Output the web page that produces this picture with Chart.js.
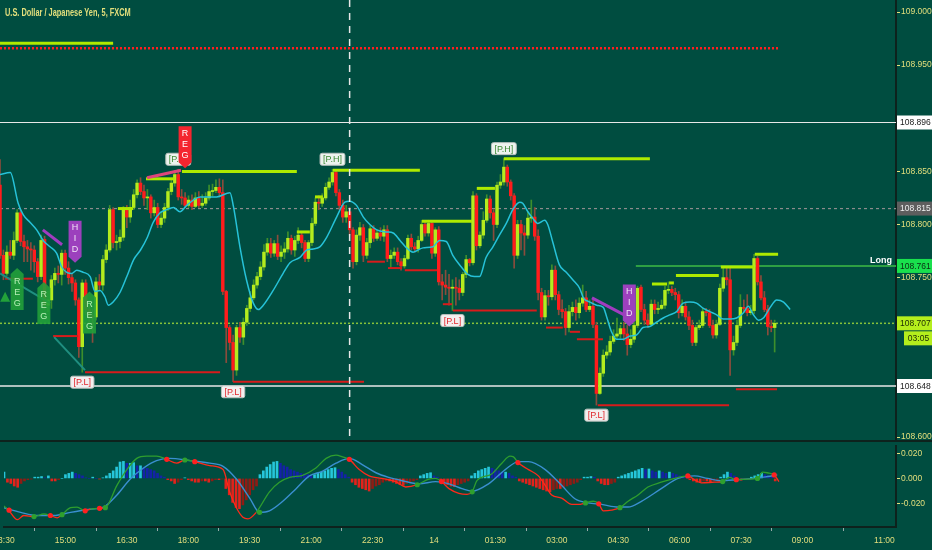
<!DOCTYPE html>
<html>
<head>
<meta charset="utf-8">
<script src="https://cdn.jsdelivr.net/npm/chart.js@4.4.1/dist/chart.umd.min.js"></script>
<style>
  html, body { margin: 0; padding: 0; background: #004d40; }
  #wrap { position: relative; width: 932px; height: 550px; overflow: hidden; background: #004d40; }
  canvas { display: block; }
  #title { position: absolute; left: 5px; top: 7px; color: #e3df7c; white-space: nowrap;
    font: bold 10px 'Liberation Sans Narrow', 'Liberation Sans', sans-serif;
    transform: scaleX(0.74); transform-origin: left top; }
</style>
</head>
<body>
<div id="wrap">
  <canvas id="price" width="932" height="442"></canvas>
  <canvas id="osc" width="932" height="108"></canvas>
  <div id="title">U.S. Dollar / Japanese Yen, 5, FXCM</div>
</div>
<script>
// 5-minute bars, bar 0 = 13:30
const opens = [
  108.837,108.771,108.754,108.774,108.771,108.785,108.811,108.784,108.779,108.777,
  108.776,108.765,108.751,108.786,108.724,108.729,108.748,108.754,108.753,108.773,
  108.759,108.750,108.745,108.729,108.685,108.745,108.720,108.714,108.713,108.746,
  108.743,108.767,108.776,108.814,108.783,108.784,108.788,108.814,108.807,108.816,
  108.828,108.839,108.831,108.825,108.826,108.811,108.816,108.800,108.806,108.816,
  108.831,108.839,108.847,108.826,108.825,108.818,108.823,108.817,108.825,108.818,
  108.820,108.825,108.831,108.832,108.835,108.830,108.737,108.703,108.689,108.663,
  108.703,108.694,108.708,108.721,108.731,108.743,108.751,108.760,108.774,108.782,
  108.773,108.782,108.770,108.774,108.777,108.787,108.776,108.785,108.790,108.783,
  108.768,108.783,108.801,108.821,108.820,108.825,108.835,108.840,108.849,108.830,
  108.818,108.807,108.812,108.795,108.765,108.790,108.797,108.771,108.783,108.796,
  108.787,108.792,108.789,108.795,108.768,108.771,108.774,108.765,108.761,108.768,
  108.787,108.779,108.777,108.785,108.800,108.792,108.801,108.773,108.795,108.746,
  108.743,108.741,108.740,108.741,108.740,108.736,108.753,108.767,108.764,108.827,
  108.780,108.790,108.804,108.824,108.811,108.800,108.837,108.840,108.854,108.840,
  108.827,108.771,108.800,108.792,108.790,108.806,108.807,108.789,108.736,108.713,
  108.733,108.732,108.757,108.734,108.720,108.718,108.703,108.718,108.722,108.717,
  108.726,108.731,108.720,108.723,108.705,108.641,108.660,108.677,108.680,108.690,
  108.695,108.697,108.702,108.697,108.687,108.692,108.705,108.741,108.720,108.710,
  108.706,108.725,108.720,108.721,108.724,108.738,108.739,108.736,108.734,108.717,
  108.723,108.713,108.705,108.689,108.703,108.705,108.718,108.717,108.705,108.696,
  108.706,108.740,108.750,108.748,108.682,108.689,108.705,108.722,108.721,108.717,
  108.719,108.768,108.746,108.731,108.720,108.704,108.703
];
const highs = [
  108.861,108.776,108.780,108.785,108.793,108.814,108.814,108.790,108.785,108.783,
  108.780,108.768,108.790,108.789,108.737,108.752,108.759,108.761,108.776,108.776,
  108.765,108.754,108.748,108.731,108.748,108.748,108.724,108.720,108.750,108.753,
  108.771,108.781,108.818,108.816,108.790,108.795,108.817,108.818,108.823,108.833,
  108.842,108.844,108.837,108.833,108.828,108.823,108.820,108.812,108.820,108.834,
  108.842,108.851,108.852,108.833,108.830,108.827,108.828,108.830,108.831,108.828,
  108.830,108.837,108.838,108.842,108.843,108.842,108.738,108.705,108.696,108.705,
  108.708,108.712,108.724,108.737,108.748,108.755,108.765,108.781,108.787,108.787,
  108.785,108.790,108.780,108.783,108.793,108.790,108.789,108.797,108.793,108.785,
  108.785,108.806,108.825,108.827,108.829,108.839,108.844,108.852,108.851,108.833,
  108.823,108.818,108.816,108.797,108.795,108.802,108.800,108.787,108.799,108.799,
  108.795,108.797,108.799,108.799,108.776,108.778,108.778,108.768,108.771,108.790,
  108.791,108.783,108.789,108.804,108.802,108.804,108.804,108.797,108.798,108.753,
  108.757,108.753,108.748,108.750,108.748,108.755,108.771,108.768,108.831,108.829,
  108.793,108.812,108.828,108.827,108.814,108.840,108.847,108.862,108.856,108.842,
  108.829,108.804,108.804,108.799,108.812,108.823,108.816,108.795,108.740,108.738,
  108.738,108.762,108.761,108.737,108.729,108.721,108.724,108.727,108.729,108.731,
  108.743,108.737,108.729,108.729,108.708,108.665,108.682,108.686,108.695,108.701,
  108.712,108.705,108.708,108.705,108.701,108.708,108.742,108.743,108.725,108.716,
  108.729,108.729,108.727,108.729,108.742,108.746,108.742,108.740,108.737,108.729,
  108.727,108.718,108.710,108.705,108.710,108.721,108.721,108.720,108.710,108.710,
  108.744,108.759,108.760,108.759,108.695,108.710,108.734,108.729,108.734,108.724,
  108.772,108.770,108.752,108.737,108.724,108.710,108.710
];
const lows = [
  108.768,108.748,108.752,108.768,108.767,108.783,108.780,108.765,108.765,108.757,
  108.755,108.746,108.748,108.720,108.718,108.721,108.743,108.745,108.743,108.753,
  108.744,108.737,108.724,108.675,108.661,108.715,108.708,108.689,108.710,108.738,
  108.738,108.764,108.774,108.778,108.776,108.778,108.785,108.797,108.802,108.814,
  108.825,108.828,108.818,108.814,108.806,108.808,108.797,108.797,108.802,108.813,
  108.828,108.836,108.823,108.819,108.816,108.816,108.814,108.816,108.816,108.816,
  108.818,108.823,108.827,108.830,108.826,108.734,108.670,108.682,108.652,108.658,
  108.689,108.687,108.705,108.718,108.729,108.740,108.748,108.757,108.771,108.769,
  108.770,108.767,108.765,108.768,108.774,108.772,108.770,108.782,108.778,108.765,
  108.765,108.780,108.799,108.814,108.817,108.823,108.833,108.837,108.827,108.814,
  108.802,108.802,108.790,108.759,108.762,108.785,108.765,108.768,108.778,108.784,
  108.785,108.785,108.784,108.765,108.759,108.768,108.762,108.757,108.759,108.767,
  108.776,108.774,108.774,108.784,108.789,108.789,108.768,108.770,108.743,108.729,
  108.734,108.724,108.719,108.724,108.729,108.733,108.750,108.761,108.762,108.776,
  108.778,108.787,108.802,108.806,108.785,108.797,108.834,108.837,108.836,108.823,
  108.759,108.768,108.776,108.771,108.787,108.802,108.785,108.729,108.710,108.710,
  108.724,108.729,108.729,108.715,108.712,108.696,108.699,108.714,108.710,108.712,
  108.723,108.718,108.718,108.703,108.630,108.640,108.657,108.674,108.677,108.688,
  108.693,108.693,108.691,108.677,108.684,108.689,108.703,108.718,108.706,108.703,
  108.705,108.716,108.716,108.720,108.721,108.735,108.733,108.729,108.712,108.714,
  108.710,108.701,108.686,108.686,108.701,108.703,108.714,108.703,108.693,108.693,
  108.705,108.737,108.743,108.658,108.677,108.686,108.703,108.718,108.714,108.715,
  108.716,108.743,108.729,108.718,108.696,108.699,108.680
];
const closes = [
  108.771,108.754,108.774,108.771,108.785,108.811,108.784,108.779,108.777,108.776,
  108.765,108.751,108.785,108.724,108.729,108.748,108.754,108.753,108.773,108.759,
  108.750,108.745,108.729,108.685,108.745,108.720,108.714,108.713,108.746,108.743,
  108.767,108.776,108.814,108.783,108.784,108.788,108.814,108.807,108.816,108.828,
  108.839,108.831,108.825,108.826,108.811,108.816,108.800,108.806,108.816,108.831,
  108.839,108.847,108.826,108.825,108.818,108.823,108.817,108.825,108.818,108.820,
  108.825,108.831,108.832,108.835,108.830,108.737,108.703,108.689,108.663,108.703,
  108.694,108.708,108.721,108.731,108.743,108.751,108.760,108.774,108.782,108.773,
  108.782,108.770,108.774,108.777,108.787,108.776,108.785,108.790,108.783,108.768,
  108.783,108.801,108.821,108.820,108.825,108.835,108.840,108.849,108.830,108.818,
  108.807,108.812,108.795,108.765,108.790,108.797,108.771,108.783,108.796,108.787,
  108.792,108.789,108.795,108.768,108.771,108.774,108.765,108.761,108.768,108.787,
  108.779,108.777,108.785,108.800,108.792,108.801,108.773,108.795,108.746,108.743,
  108.741,108.740,108.741,108.740,108.736,108.753,108.767,108.764,108.827,108.780,
  108.790,108.804,108.824,108.811,108.800,108.837,108.840,108.854,108.840,108.827,
  108.771,108.800,108.792,108.790,108.806,108.807,108.789,108.736,108.713,108.733,
  108.732,108.757,108.734,108.720,108.718,108.703,108.718,108.722,108.717,108.726,
  108.731,108.720,108.723,108.706,108.641,108.660,108.677,108.680,108.690,108.695,
  108.697,108.702,108.697,108.687,108.692,108.705,108.740,108.720,108.710,108.706,
  108.725,108.720,108.721,108.724,108.738,108.739,108.736,108.734,108.717,108.723,
  108.713,108.705,108.689,108.703,108.705,108.718,108.717,108.705,108.696,108.706,
  108.740,108.750,108.748,108.682,108.689,108.705,108.722,108.721,108.717,108.719,
  108.768,108.746,108.731,108.720,108.704,108.703,108.707
];

// moving average (cyan), read at bar positions
const maBars = [0,3,5.3,6.8,8.8,10.7,12.6,14.6,16.5,18,19.5,21,22.4,24.3,26.3,27.7,29.2,30.6,31.6,33,
  35,37,39,41,43,44.7,46.7,48.6,50.6,52.5,54.5,56.4,58.4,60.5,63.2,67.1,68.1,70,71.9,73.9,
  75.4,76.8,79.7,82.6,84.6,87.5,89.5,91.4,93.3,95.3,98.2,100.6,102,104,106,107.9,109.9,112.8,114.7,116.7,
  118.6,120.5,123.4,126.3,128.2,130.2,132.1,134.6,136.5,138.4,139.9,141.8,143.8,145.7,147.7,149.6,151.6,152.5,154,155.4,
  156.9,158.9,159.8,161.3,163.2,165.2,167.1,169.1,170.2,172.1,174.1,176,177,178.4,179.9,181.8,183.8,185.7,187.6,189.6,
  191.5,193.5,195.4,197.4,199.3,201.3,203.2,205.2,207.1,209.1,211,213,214.9,216.9,218.3,219.8,221.3,222.7,224.7,226.6,
  228.6,230.5];
const maValues = [108.847,108.849,108.820,108.809,108.802,108.795,108.785,108.779,108.773,108.760,108.755,108.754,108.757,108.755,108.751,108.737,108.738,108.732,108.724,108.727,
  108.736,108.751,108.767,108.776,108.788,108.802,108.811,108.814,108.816,108.812,108.818,108.823,108.826,108.826,108.826,108.830,108.817,108.779,108.748,108.726,
  108.720,108.724,108.738,108.754,108.764,108.769,108.776,108.777,108.779,108.788,108.807,108.821,108.822,108.818,108.807,108.800,108.795,108.793,108.792,108.785,
  108.778,108.774,108.778,108.779,108.785,108.784,108.771,108.760,108.753,108.751,108.751,108.769,108.779,108.790,108.801,108.814,108.821,108.820,108.812,108.806,
  108.801,108.804,108.800,108.783,108.762,108.755,108.748,108.740,108.731,108.727,108.724,108.722,108.713,108.699,108.692,108.692,108.695,108.696,108.703,108.704,
  108.708,108.712,108.715,108.718,108.726,108.727,108.726,108.721,108.718,108.715,108.711,108.711,108.712,108.717,108.723,108.715,108.710,108.712,108.722,108.729,
  108.727,108.720];

// pivot levels: [start bar, end bar, price]
const pivotHighSegs = [[34.4,38.8,108.815],[42.6,51.0,108.843],[53.1,86.6,108.850],[86.6,90.4,108.793],[91.9,94.2,108.826],
  [97.1,122.5,108.851],[123.1,137.7,108.803],[139.1,144.4,108.834],[147.0,189.6,108.862],[190.2,194.6,108.744],
  [195.2,196.6,108.745],[197.2,209.7,108.752],[210.3,220.0,108.760],[220.2,227.0,108.772]];
const pivotLowSegs = [[1.5,9.6,108.749],[15.5,22.8,108.695],[24.8,64.2,108.661],[68.0,106.2,108.652],[107.1,112.3,108.765],
  [113.2,117.3,108.759],[118.1,127.5,108.757],[129.2,131.9,108.725],[132.1,156.6,108.719],[159.3,164.2,108.703],
  [166.3,169.2,108.699],[168.3,175.9,108.692],[174.4,212.7,108.630],[214.7,226.7,108.645]];
const pivotLowBars = [24, 68, 132, 174];
const pivotHighBars = [52, 97, 147];

// trend / divergence lines: [[bar, price], [bar, price]]
const tealLines = [[[0,108.754],[14.6,108.726]], [[15.8,108.694],[24.8,108.663]]];
const pinkLines = [[[42.9,108.844],[52.8,108.851]]];
const purpleLines = [[[12.5,108.795],[18.1,108.781]], [[172.7,108.731],[183.2,108.713]]];

// signal labels: [bar, price at arrow tip]
const regDownMarks = [[54, 108.853]];
const hidMarks = [[21.9, 108.764], [183.6, 108.704]];
const regUpMarks = [[5, 108.759], [12.8, 108.746], [26.1, 108.737]];
const upTriangles = [[1.5, 108.731]];

// horizontal levels
const levelValues = [108.896, 108.815, 108.761, 108.707, 108.648];
const longStartBar = 185.5;
const topLime = [0, 33, 108.9706];
const topRed = [0, 227, 108.9658];
const sessionBreakBar = 102;
const countdown = '03:05';

// oscillator
const histValues = [
  0.005,-0.003,-0.004,-0.006,-0.007,-0.004,-0.002,-0.001,-0.0005,0.001,
  0.001,0.0015,0.0005,0.002,-0.002,-0.002,-0.001,0,0.003,0.004,
  0.005,0.004,0.003,0.002,0.0005,0,0.001,0,-0.0005,0.0005,
  0.002,0.004,0.006,0.009,0.013,0.0135,0.012,0.012,0.0125,0.010,
  0.010,0.009,0.008,0.007,0.006,0.004,0.002,0.001,-0.001,-0.002,
  -0.004,-0.003,-0.001,0.0005,-0.001,-0.002,-0.003,-0.003,-0.002,-0.002,
  -0.003,-0.002,-0.001,-0.001,-0.0005,-0.008,-0.013,-0.019,-0.023,-0.024,
  -0.021,-0.017,-0.013,-0.009,-0.006,0.003,0.006,0.009,0.011,0.013,
  0.0135,0.012,0.010,0.009,0.007,0.006,0.005,0.004,0.0035,0.003,
  0.002,0.003,0.004,0.005,0.006,0.007,0.008,0.0085,0.007,0.005,
  0.003,0.001,-0.003,-0.005,-0.007,-0.008,-0.009,-0.010,-0.008,-0.006,
  -0.005,-0.003,-0.002,-0.002,-0.003,-0.004,-0.005,-0.0055,-0.004,-0.003,
  -0.002,-0.001,0.002,0.003,0.004,0.0045,0.002,0.001,-0.002,-0.004,
  -0.005,-0.006,-0.0065,-0.005,-0.004,-0.003,-0.002,0.002,0.004,0.006,
  0.007,0.008,0.009,0.008,0.007,0.006,0.005,0.005,0.004,0.002,
  0.001,-0.002,-0.003,-0.004,-0.005,-0.006,-0.007,-0.008,-0.009,-0.010,
  -0.0105,-0.009,-0.008,-0.008,-0.007,-0.006,-0.005,-0.004,-0.003,-0.001,
  0.001,0.001,0.0015,0.001,-0.002,-0.004,-0.005,-0.005,-0.004,-0.003,
  0.001,0.002,0.003,0.004,0.005,0.006,0.007,0.008,0.007,0.0075,
  0.006,0.005,0.006,0.005,0.004,0.005,0.004,0.003,0.002,0.0015,
  0.001,-0.001,-0.002,-0.003,-0.003,-0.002,-0.002,-0.003,-0.002,-0.001,
  0.001,0.003,0.005,0.004,0.002,-0.001,-0.0015,-0.001,-0.0005,0.001,
  0.002,0.003,0.004,0.003,0.002,0.001,-0.002
];
const macdBars = [0,1.5,3.9,5.8,8.8,11.7,13.6,15.6,17,19.5,21.4,23.8,25.3,28,29.7,33.1,36,38.9,41.8,44.7,
  47.7,50.6,53,55.9,60.3,64.2,66.1,68.1,70,71.5,73.9,77.8,80.7,83.7,87.5,91.4,94.4,97.3,99.2,101.2,
  104.1,107,111.9,114.8,117.7,121.1,124.5,126.5,128.2,130.4,133.3,135.7,137.2,138.6,142.8,145.9,148.3,149.3,150.6,153.7,
  156.6,158.6,160.5,163.4,166.4,168.3,170.4,172.7,174.3,175.6,178,180.5,182.9,185.8,188.7,192.6,196.5,200.4,202.3,204.3,
  208.2,210.6,212.6,214.6,217.9,220.8,222.3,223.7,225.7,227.1];
const macdValues = [-0.0219,-0.0257,-0.0327,-0.0294,-0.0302,-0.0282,-0.0294,-0.0312,-0.0287,-0.0232,
  -0.0227,-0.0257,-0.0244,-0.0237,-0.0232,-0.0055,0.0070,0.0159,0.0176,0.0176,
  0.0151,0.0121,0.0146,0.0133,0.0101,0.0070,-0.0106,-0.0232,-0.0307,-0.0320,
  -0.0269,-0.0106,-0.0030,0.0008,0.0025,0.0083,0.0159,0.0184,0.0171,0.0151,
  0.0070,0.0020,-0.0005,-0.0025,-0.0068,-0.0050,-0.0005,0.0000,-0.0025,-0.0081,
  -0.0118,-0.0126,-0.0106,-0.0018,0.0033,0.0121,0.0176,0.0171,0.0126,0.0070,
  0.0020,-0.0055,-0.0131,-0.0156,-0.0206,-0.0206,-0.0194,-0.0181,-0.0201,-0.0257,
  -0.0252,-0.0232,-0.0181,-0.0131,-0.0068,-0.0030,0.0000,0.0020,-0.0010,-0.0035,
  -0.0030,-0.0025,0.0008,-0.0010,-0.0005,0.0000,0.0050,0.0045,0.0028,-0.0025];
const signalBars = [0,4.9,9.7,14.6,19.5,25.3,29.2,33.1,37,40.9,44.7,48.6,54.5,60.3,64.2,68.1,72,74.9,77.8,81.7,
  85.6,89.5,93.4,97.3,101.2,105.1,109,112.8,116.7,121.6,126.5,130.4,134.2,137.2,142,146.9,150.8,153.7,158.6,163.4,
  167.3,171.2,175.1,180,182.9,186.8,192.6,197.5,202.3,206.2,210.1,214.9,219.8,223.7,226.6];
const signalValues = [-0.0232,-0.0269,-0.0294,-0.0294,-0.0269,-0.0244,-0.0227,-0.0131,-0.0005,0.0083,
  0.0141,0.0159,0.0141,0.0121,0.0096,-0.0005,-0.0156,-0.0269,-0.0257,-0.0181,
  -0.0081,0.0020,0.0058,0.0121,0.0159,0.0108,0.0045,0.0008,-0.0018,-0.0043,
  -0.0025,-0.0043,-0.0081,-0.0101,-0.0043,0.0070,0.0133,0.0133,0.0070,-0.0055,
  -0.0161,-0.0194,-0.0206,-0.0227,-0.0227,-0.0181,-0.0081,0.0000,0.0020,0.0000,
  -0.0018,-0.0010,0.0000,0.0015,0.0028];
const crossDownBars = [1.5,13.6,23.8,28,47.7,55.9,101.2,128.2,150.6,174.3,200.4,214.6,225.7];
const crossDownValues = [-0.0252,-0.0294,-0.0257,-0.0237,0.0151,0.0133,0.0151,-0.0025,0.0126,-0.0201,0.0020,-0.0010,0.0028];
const crossUpBars = [8.8,17,29.7,53,74.9,121.1,137.2,170.4,180.5,210.6,220.8];
const crossUpValues = [-0.0302,-0.0287,-0.0232,0.0146,-0.0269,-0.0050,-0.0106,-0.0194,-0.0232,-0.0025,0.0000];

// axes
const xTickBars = [0,18,36,54,72,90,108,126,144,162,180,198,216,234,258];
const xTickLabels = ['13:30','15:00','16:30','18:00','19:30','21:00','22:30','14','01:30','03:00','04:30','06:00','07:30','09:00','11:00'];
const priceTicks = [109.000, 108.950, 108.850, 108.800, 108.750, 108.600];
const oscTicks = [0.020, 0.000, -0.020];

const X_MAX = 261.4;
const PRICE_MIN = 108.5953, PRICE_MAX = 109.0113;
const OSC_MIN = -0.0385, OSC_MAX = 0.0257;
const AXIS_W = 36;

const TEXT = '#e3df7c';
const FRAME = '#0d221d';
const LIME = '#b4ec1e';
const RED = '#ff1c1c';
const FONT = "'Liberation Sans Narrow', 'Liberation Sans', sans-serif";
const FS = 8.5;

Chart.defaults.font.family = FONT;
Chart.defaults.font.size = FS;
Chart.defaults.color = TEXT;

function seg(x1, x2, v, color, width, dash, order) {
  return {
    type: 'line', data: [{x: x1, y: v}, {x: x2, y: v}],
    borderColor: color, borderWidth: width, borderDash: dash || [],
    pointRadius: 0, order: order, fill: false
  };
}
function pts(list, color, width, order) {
  return {
    type: 'line', data: list.map(p => ({x: p[0], y: p[1]})),
    borderColor: color, borderWidth: width, pointRadius: 0, order: order, fill: false
  };
}

const isUp = closes.map((c, i) => c >= opens[i]);

const priceDatasets = [
  {
    type: 'bar', label: 'wick',
    data: highs.map((h, i) => ({x: i, y: [lows[i], h]})),
    backgroundColor: isUp.map(u => u ? '#3d8f2c' : '#8a4c3c'),
    barThickness: 1, grouped: false, order: 12
  },
  {
    type: 'bar', label: 'body',
    data: opens.map((o, i) => ({x: i, y: [o, closes[i]]})),
    backgroundColor: isUp.map(u => u ? LIME : RED),
    barThickness: 2.8, minBarLength: 1, grouped: false, order: 11
  },
  {
    type: 'line', label: 'MA',
    data: maBars.map((b, i) => ({x: b, y: maValues[i]})),
    borderColor: '#26c2d8', borderWidth: 1.5, pointRadius: 0,
    cubicInterpolationMode: 'monotone', order: 3, fill: false
  },
  seg(0, X_MAX, levelValues[0], '#e8e8e8', 1.2, null, 20),
  seg(0, X_MAX, levelValues[1], '#8c8c8c', 1.2, [3, 3], 20),
  seg(longStartBar, X_MAX, levelValues[2], '#2ea043', 2, null, 20),
  seg(0, X_MAX, levelValues[3], '#86c23a', 1.5, [2, 2], 20),
  seg(0, X_MAX, levelValues[4], '#e8e8e8', 1.5, null, 20),
  seg(topLime[0], topLime[1], topLime[2], '#aeea00', 3, null, 6),
  seg(topRed[0], topRed[1], topRed[2], '#ff2020', 2.5, [2, 2], 6),
  {
    type: 'line', data: [{x: sessionBreakBar, y: PRICE_MAX}, {x: sessionBreakBar, y: PRICE_MIN}],
    borderColor: '#e6e6e6', borderWidth: 1.5, borderDash: [7, 6], pointRadius: 0, order: 2
  }
];
pivotHighSegs.forEach(s => priceDatasets.push(seg(s[0], s[1], s[2], '#aeea00', 3, null, 5)));
pivotLowSegs.forEach(s => priceDatasets.push(seg(s[0], s[1], s[2], '#d81b1b', 2, null, 5)));
tealLines.forEach(l => priceDatasets.push(pts(l, '#1f8f80', 2, 4)));
pinkLines.forEach(l => priceDatasets.push(pts(l, '#e0457b', 3, 4)));
purpleLines.forEach(l => priceDatasets.push(pts(l, '#a03cc0', 3, 4)));

function tag(ctx, cx, cy, text, bg, fg) {
  ctx.font = '9px ' + FONT;
  const w = ctx.measureText(text).width + 6, h = 12;
  ctx.fillStyle = bg;
  ctx.strokeStyle = '#b9c2bd';
  ctx.lineWidth = 1;
  ctx.beginPath();
  ctx.roundRect(cx - w / 2, cy - h / 2, w, h, 2);
  ctx.fill();
  ctx.stroke();
  ctx.fillStyle = fg;
  ctx.textAlign = 'center';
  ctx.textBaseline = 'middle';
  ctx.fillText(text, cx, cy + 0.5);
}

function vLabel(ctx, cx, tipY, pointDown, bg, fg, letters) {
  const w = 13, h = 36, a = 6;
  const top = pointDown ? tipY - a - h : tipY + a;
  ctx.fillStyle = bg;
  ctx.beginPath();
  if (pointDown) {
    ctx.moveTo(cx - w / 2, top); ctx.lineTo(cx + w / 2, top); ctx.lineTo(cx + w / 2, top + h);
    ctx.lineTo(cx, tipY); ctx.lineTo(cx - w / 2, top + h);
  } else {
    ctx.moveTo(cx, tipY); ctx.lineTo(cx + w / 2, top); ctx.lineTo(cx + w / 2, top + h);
    ctx.lineTo(cx - w / 2, top + h); ctx.lineTo(cx - w / 2, top);
  }
  ctx.closePath();
  ctx.fill();
  ctx.fillStyle = fg;
  ctx.font = '9px ' + FONT;
  ctx.textAlign = 'center';
  ctx.textBaseline = 'middle';
  letters.forEach((c, i) => ctx.fillText(c, cx, top + 7 + i * 11));
}

function axisBox(ctx, left, cy, w, text, bg, fg) {
  ctx.fillStyle = bg;
  ctx.fillRect(left, cy - 7, w, 14);
  ctx.fillStyle = fg;
  ctx.font = FS + 'px ' + FONT;
  ctx.textAlign = 'left';
  ctx.textBaseline = 'middle';
  ctx.fillText(text, left + 3, cy + 0.5);
}

const priceMarks = {
  id: 'priceMarks',
  afterDatasetsDraw(chart) {
    const {ctx, chartArea, scales: {x, y}} = chart;
    ctx.save();
    ctx.beginPath();
    ctx.rect(chartArea.left, chartArea.top, chartArea.width, chartArea.height);
    ctx.clip();
    upTriangles.forEach(t => {
      const px = x.getPixelForValue(t[0]), py = y.getPixelForValue(t[1]);
      ctx.fillStyle = '#22a23a';
      ctx.beginPath();
      ctx.moveTo(px, py - 6); ctx.lineTo(px + 5, py + 4); ctx.lineTo(px - 5, py + 4);
      ctx.closePath(); ctx.fill();
    });
    regUpMarks.forEach(m => vLabel(ctx, x.getPixelForValue(m[0]), y.getPixelForValue(m[1]), false,
      'rgba(34,160,58,0.9)', '#b6f0b6', ['R', 'E', 'G']));
    hidMarks.forEach(m => vLabel(ctx, x.getPixelForValue(m[0]), y.getPixelForValue(m[1]), true,
      '#9c40bd', '#efe2f5', ['H', 'I', 'D']));
    pivotLowBars.forEach(i => tag(ctx, x.getPixelForValue(i), y.getPixelForValue(lows[i]) + 10, '[P.L]', '#f3efef', '#e0262b'));
    pivotHighBars.forEach(i => tag(ctx, x.getPixelForValue(i), y.getPixelForValue(highs[i]) - 10, '[P.H]', '#eef3ee', '#3c8a34'));
    regDownMarks.forEach(m => vLabel(ctx, x.getPixelForValue(m[0]), y.getPixelForValue(m[1]), true,
      '#f4252f', '#ffffff', ['R', 'E', 'G']));
    // "Long" caption
    ctx.fillStyle = '#ffffff';
    ctx.font = 'bold 9px ' + FONT;
    ctx.textAlign = 'right';
    ctx.textBaseline = 'bottom';
    ctx.fillText('Long', chartArea.right - 4, y.getPixelForValue(levelValues[2]) - 1);
    ctx.restore();

    // price tags on the axis
    ctx.save();
    const left = chartArea.right + 1;
    const styles = [['#ffffff', '#1b1b1b'], ['#5e5e5e', '#f0f0f0'], ['#19e04d', '#0b2b12'], ['#b4ee1c', '#1b2a05'], ['#ffffff', '#1b1b1b']];
    levelValues.forEach((v, i) => axisBox(ctx, left, y.getPixelForValue(v), AXIS_W, v.toFixed(3), styles[i][0], styles[i][1]));
    const cy = y.getPixelForValue(levelValues[3]) + 15;
    ctx.fillStyle = '#b4ee1c';
    ctx.fillRect(left + 7, cy - 7, AXIS_W - 7, 14);
    ctx.fillStyle = '#1b2a05';
    ctx.font = FS + 'px ' + FONT;
    ctx.textAlign = 'center';
    ctx.textBaseline = 'middle';
    ctx.fillText(countdown, left + 7 + (AXIS_W - 7) / 2, cy + 0.5);
    // panel separator
    ctx.fillStyle = FRAME;
    ctx.fillRect(0, chart.height - 2, chart.width, 2);
    ctx.restore();
  }
};

function rightAxis(min, max, ticks) {
  return {
    type: 'linear', position: 'right', min: min, max: max,
    afterBuildTicks: s => { s.ticks = ticks.map(v => ({value: v})); },
    afterFit: s => { s.width = AXIS_W; s.paddingTop = 0; s.paddingBottom = 0; },
    ticks: { callback: v => Number(v).toFixed(3), padding: 1, color: TEXT, font: {size: FS} },
    grid: { drawOnChartArea: false, drawTicks: true, tickLength: 4, tickColor: TEXT },
    border: { display: true, color: FRAME, width: 2 }
  };
}

new Chart(document.getElementById('price'), {
  type: 'bar',
  data: { datasets: priceDatasets },
  options: {
    responsive: false, animation: false,
    layout: { padding: 0 },
    plugins: { legend: { display: false }, tooltip: { enabled: false } },
    scales: {
      x: { type: 'linear', min: 0, max: X_MAX, offset: false, display: false },
      y: rightAxis(PRICE_MIN, PRICE_MAX, priceTicks)
    }
  },
  plugins: [priceMarks]
});

function signalAt(b) {
  for (let i = 1; i < signalBars.length; i++) {
    if (b <= signalBars[i]) {
      const t = (b - signalBars[i - 1]) / (signalBars[i] - signalBars[i - 1]);
      return signalValues[i - 1] + t * (signalValues[i] - signalValues[i - 1]);
    }
  }
  return signalValues[signalValues.length - 1];
}

const histColors = histValues.map((v, i) => {
  const prev = i > 0 ? histValues[i - 1] : v;
  if (v >= 0) return v >= prev ? '#26c6da' : '#1422a8';
  return v <= prev ? '#e3221b' : '#8e1c14';
});

new Chart(document.getElementById('osc'), {
  type: 'bar',
  data: {
    datasets: [
      {
        type: 'bar', data: histValues.map((v, i) => ({x: i, y: v})),
        backgroundColor: histColors, barThickness: 2, order: 5
      },
      {
        type: 'line', data: signalBars.map((b, i) => ({x: b, y: signalValues[i]})),
        borderColor: '#3a8fd0', borderWidth: 1.4, pointRadius: 0,
        cubicInterpolationMode: 'monotone', order: 3, fill: false
      },
      {
        type: 'line', data: macdBars.map((b, i) => ({x: b, y: macdValues[i]})),
        borderColor: '#2e9e2e', borderWidth: 1.3, pointRadius: 0,
        cubicInterpolationMode: 'monotone', order: 2, fill: false,
        segment: {
          borderColor: c => {
            const b = (c.p0.parsed.x + c.p1.parsed.x) / 2;
            const v = (c.p0.parsed.y + c.p1.parsed.y) / 2;
            return v >= signalAt(b) - 0.0003 ? '#2e9e2e' : '#ff2a1a';
          }
        }
      },
      {
        type: 'line', data: crossDownBars.map((b, i) => ({x: b, y: crossDownValues[i]})),
        showLine: false, pointRadius: 2.6, pointBackgroundColor: '#ff2020', pointBorderWidth: 0, order: 1
      },
      {
        type: 'line', data: crossUpBars.map((b, i) => ({x: b, y: crossUpValues[i]})),
        showLine: false, pointRadius: 2.6, pointBackgroundColor: '#2ea02e', pointBorderWidth: 0, order: 1
      }
    ]
  },
  options: {
    responsive: false, animation: false,
    layout: { padding: 0 },
    plugins: { legend: { display: false }, tooltip: { enabled: false } },
    scales: {
      x: {
        type: 'linear', position: 'bottom', min: 0, max: X_MAX, offset: false,
        afterBuildTicks: s => { s.ticks = xTickBars.map(v => ({value: v})); },
        afterFit: s => { s.height = 23; s.paddingLeft = 0; s.paddingRight = 0; },
        ticks: {
          autoSkip: false, maxRotation: 0, padding: 5, color: TEXT, font: {size: FS},
          callback: (v, i) => xTickLabels[i]
        },
        grid: { drawOnChartArea: false, drawTicks: true, tickLength: 4, tickColor: '#9aa' },
        border: { display: true, color: FRAME, width: 2 }
      },
      y: rightAxis(OSC_MIN, OSC_MAX, oscTicks)
    }
  }
});
</script>
</body>
</html>
